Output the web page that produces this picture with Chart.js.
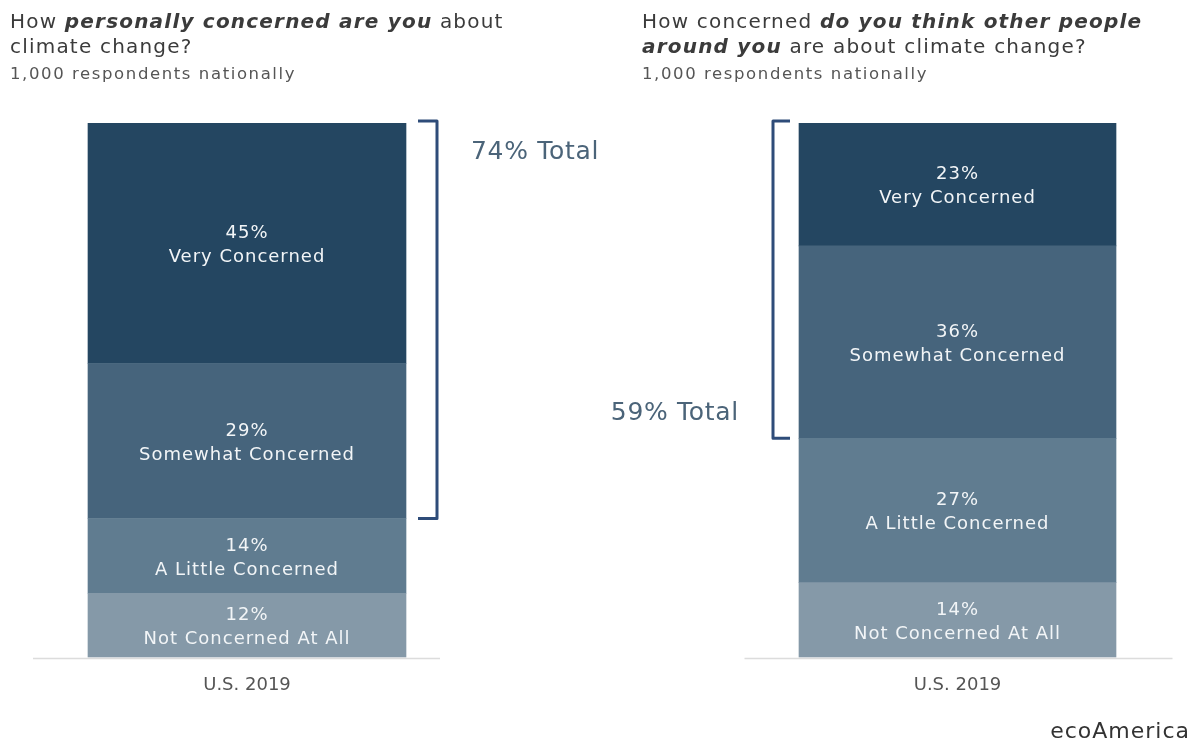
<!DOCTYPE html>
<html>
<head>
<meta charset="utf-8">
<script src="https://cdn.jsdelivr.net/npm/chart.js@4"></script>
<style>
    html, body { margin: 0; padding: 0; background: #fff; }
    #page { position: relative; width: 1193px; height: 740px; overflow: hidden; font-family: "DejaVu Sans", sans-serif; }
    canvas.layer { position: absolute; left: 0; top: 0; }
    .title { position: absolute; top: 9px; font-size: 20px; line-height: 25px; letter-spacing: 1.2px; color: #3b3b3b; white-space: nowrap; }
    .title b { font-style: italic; }
    .sub { position: absolute; top: 64px; font-size: 16.5px; line-height: 20px; letter-spacing: 1.6px; color: #555; white-space: nowrap; }
    #brand { position: absolute; right: 3px; top: 718px; font-size: 22px; letter-spacing: 1px; color: #333; }
</style>
</head>
<body>
<div id="page">
    <canvas id="leftChart" class="layer" width="1193" height="740"></canvas>
    <canvas id="rightChart" class="layer" width="1193" height="740"></canvas>
    <div class="title" style="left:10px">How <b>personally concerned are you</b> about<br>climate change?</div>
    <div class="sub" style="left:10px">1,000 respondents nationally</div>
    <div class="title" style="left:642px">How concerned <b>do you think other people</b><br><b>around you</b> are about climate change?</div>
    <div class="sub" style="left:642px">1,000 respondents nationally</div>
    <div id="brand">ecoAmerica</div>
</div>
<script>
// Данные
const categories = ['U.S. 2019'];
const levels = ['Very Concerned', 'Somewhat Concerned', 'A Little Concerned', 'Not Concerned At All'];
const personalValues = [45, 29, 14, 12];
const othersValues = [23, 36, 27, 14];
const levelColors = ['#244661', '#46647c', '#607c90', '#8599a8'];

// Подписи сегментов, скобка и базовая линия
const annotPlugin = {
    id: 'annot',
    afterDatasetsDraw(chart, args, opts) {
        const ctx = chart.ctx;
        const n = chart.data.datasets.length;
        ctx.save();

        // базовая линия
        const anyBar = chart.getDatasetMeta(0).data[0];
        ctx.strokeStyle = '#dcdcdc';
        ctx.lineWidth = 1.5;
        ctx.beginPath();
        ctx.moveTo(anyBar.x + opts.baseFrom, chart.chartArea.bottom + 1);
        ctx.lineTo(anyBar.x + opts.baseTo, chart.chartArea.bottom + 1);
        ctx.stroke();

        // подписи внутри сегментов
        ctx.fillStyle = '#f2f5f7';
        ctx.textAlign = 'center';
        ctx.textBaseline = 'middle';
        ctx.font = '18px "DejaVu Sans"';
        ctx.letterSpacing = '1px';
        chart.data.datasets.forEach((ds, i) => {
            const el = chart.getDatasetMeta(i).data[0];
            const cy = (el.y + el.base) / 2;
            ctx.fillText(ds.data[0] + '%', el.x, cy - 10);
            ctx.fillText(ds.label, el.x, cy + 14);
        });

        // скобка над «Very» + «Somewhat»
        const top = chart.getDatasetMeta(n - 1).data[0];
        const mid = chart.getDatasetMeta(n - 2).data[0];
        const total = chart.data.datasets[n - 1].data[0] + chart.data.datasets[n - 2].data[0];
        const y1 = top.y - 2, y2 = mid.base;
        const half = top.width / 2;
        ctx.strokeStyle = '#2e4c79';
        ctx.lineWidth = 3;
        ctx.lineJoin = 'round';
        ctx.fillStyle = '#4b6479';
        ctx.font = '25px "DejaVu Sans"';
        ctx.letterSpacing = '0.7px';
        ctx.beginPath();
        if (opts.side === 'right') {
            const bx = top.x + half + 31;
            ctx.moveTo(bx - 19, y1); ctx.lineTo(bx, y1); ctx.lineTo(bx, y2); ctx.lineTo(bx - 19, y2);
            ctx.stroke();
            ctx.textAlign = 'left';
            ctx.fillText(total + '% Total', bx + 34, y1 + 31);
        } else {
            const bx = top.x - half - 26;
            ctx.moveTo(bx + 17, y1); ctx.lineTo(bx, y1); ctx.lineTo(bx, y2); ctx.lineTo(bx + 17, y2);
            ctx.stroke();
            ctx.textAlign = 'right';
            ctx.fillText(total + '% Total', bx - 34, y2 - 25);
        }
        ctx.restore();
    }
};

function buildChart(canvasId, values, pad, thickness, annot) {
    // снизу «Not Concerned», сверху «Very Concerned»
    const datasets = levels.map((label, i) => ({
        label: label,
        data: [values[i]],
        backgroundColor: levelColors[i],
        borderWidth: 0,
        barThickness: thickness
    })).reverse();

    return new Chart(document.getElementById(canvasId), {
        type: 'bar',
        data: { labels: categories, datasets: datasets },
        options: {
            responsive: false,
            animation: false,
            events: [],
            layout: { padding: pad },
            scales: {
                x: {
                    stacked: true,
                    grid: { display: false, drawTicks: false },
                    border: { display: false },
                    ticks: { color: '#555', padding: 17, font: { family: 'DejaVu Sans', size: 18 } }
                },
                y: { stacked: true, display: false, min: 0, max: 100 }
            },
            plugins: {
                legend: { display: false },
                tooltip: { enabled: false },
                annot: annot
            }
        },
        plugins: [annotPlugin]
    });
}

buildChart('leftChart', personalValues, { left: 0, right: 699, top: 123, bottom: 27 }, 318,
    { side: 'right', baseFrom: -214, baseTo: 193 });
buildChart('rightChart', othersValues, { left: 722, right: 0, top: 123, bottom: 27 }, 317,
    { side: 'left', baseFrom: -213, baseTo: 215 });
</script>
</body>
</html>
